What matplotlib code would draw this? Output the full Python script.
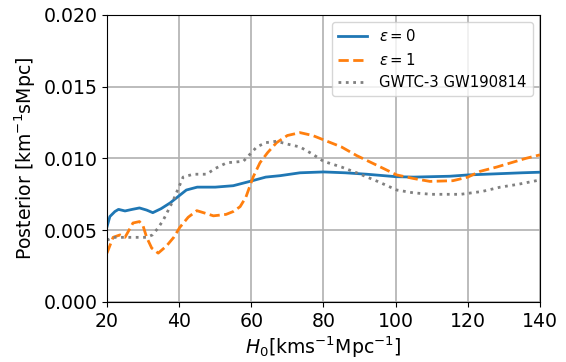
import matplotlib
matplotlib.use("Agg")
import matplotlib.pyplot as plt

# eps = 0
h_blue = [20, 20.8, 22.2, 23.2, 25, 27, 29, 31, 32.7, 35, 37.5, 40, 42, 45, 50, 55, 59.6, 64, 68, 73.5, 80, 86, 92, 100, 105, 110, 115, 120, 125, 130, 135, 140]
p_blue = [0.00523, 0.00595, 0.0063, 0.00645, 0.00634, 0.00645, 0.00655, 0.0064, 0.00622, 0.0065, 0.0069, 0.0074, 0.0078, 0.0080, 0.0080, 0.0081, 0.0084, 0.0087, 0.0088, 0.0090, 0.00906, 0.0090, 0.0089, 0.00873, 0.0087, 0.00873, 0.00876, 0.00885, 0.0089, 0.00895, 0.009, 0.00904]

# eps = 1
h_orange = [20, 21.7, 23.6, 25, 27.2, 29, 30, 31, 32.4, 34.2, 36.5, 38.5, 40.2, 42.5, 44.9, 47, 49.5, 53, 55, 56.9, 58.5, 60.5, 62.4, 64.5, 67, 70, 73.5, 77, 80, 85, 89.2, 95, 100.3, 105, 109.5, 115.9, 120, 123.4, 128, 132, 136, 140]
p_orange = [0.0034, 0.0045, 0.00467, 0.0045, 0.0055, 0.0056, 0.0053, 0.0045, 0.00375, 0.0034, 0.0039, 0.0045, 0.0052, 0.0059, 0.00636, 0.0062, 0.0060, 0.0061, 0.0063, 0.00664, 0.0073, 0.0087, 0.0097, 0.0104, 0.0111, 0.0116, 0.0118, 0.0116, 0.0113, 0.0108, 0.0102, 0.0095, 0.00885, 0.0086, 0.0084, 0.00845, 0.0087, 0.0091, 0.0094, 0.0097, 0.0100, 0.01025]

# GWTC-3 GW190814
h_grey = [20, 21.7, 24.4, 28, 31, 32.6, 34, 35.6, 38.4, 41.1, 43.9, 47.6, 50, 53.2, 57.8, 61.5, 64, 67, 70, 73.5, 77, 80, 85, 89.2, 95, 100.3, 105, 110, 118, 124, 129, 134, 140]
p_grey = [0.0043, 0.0045, 0.0045, 0.0045, 0.0045, 0.00467, 0.0051, 0.0057, 0.0071, 0.0087, 0.0089, 0.0089, 0.0093, 0.0097, 0.0098, 0.0108, 0.0111, 0.0112, 0.0110, 0.0108, 0.0103, 0.0098, 0.0094, 0.0090, 0.0084, 0.0078, 0.0076, 0.0075, 0.0075, 0.0077, 0.0080, 0.0082, 0.0085]

xticks = [20, 40, 60, 80, 100, 120, 140]
yticks = [0.000, 0.005, 0.010, 0.015, 0.020]

fig = plt.figure(figsize=(5.66, 3.62), dpi=100)
ax = fig.add_axes([0.189, 0.166, 0.765, 0.7926])
ax.plot(h_blue, p_blue, color='#1f77b4', lw=2, label=r'$\varepsilon = 0$')
ax.plot(h_orange, p_orange, color='#ff7f0e', lw=2, ls='--', label=r'$\varepsilon = 1$')
ax.plot(h_grey, p_grey, color='gray', lw=2, ls=':', label='GWTC-3 GW190814')
ax.set_xlim(20, 140)
ax.set_ylim(0, 0.02)
ax.set_xticks(xticks)
ax.set_yticks(yticks)
ax.set_yticklabels([f'{v:.3f}' for v in yticks])
ax.tick_params(labelsize=13.6)
ax.grid(True, color='#b0b0b0', lw=1.2)
ax.set_xlabel(r'$H_0[\mathrm{kms^{-1}Mpc^{-1}}]$', fontsize=13.6, labelpad=3)
ax.set_ylabel(r'Posterior $[\mathrm{km^{-1}sMpc}]$', fontsize=13.6)
ax.legend(loc='upper right', fontsize=10.7)
fig.savefig('out.png', dpi=100)
